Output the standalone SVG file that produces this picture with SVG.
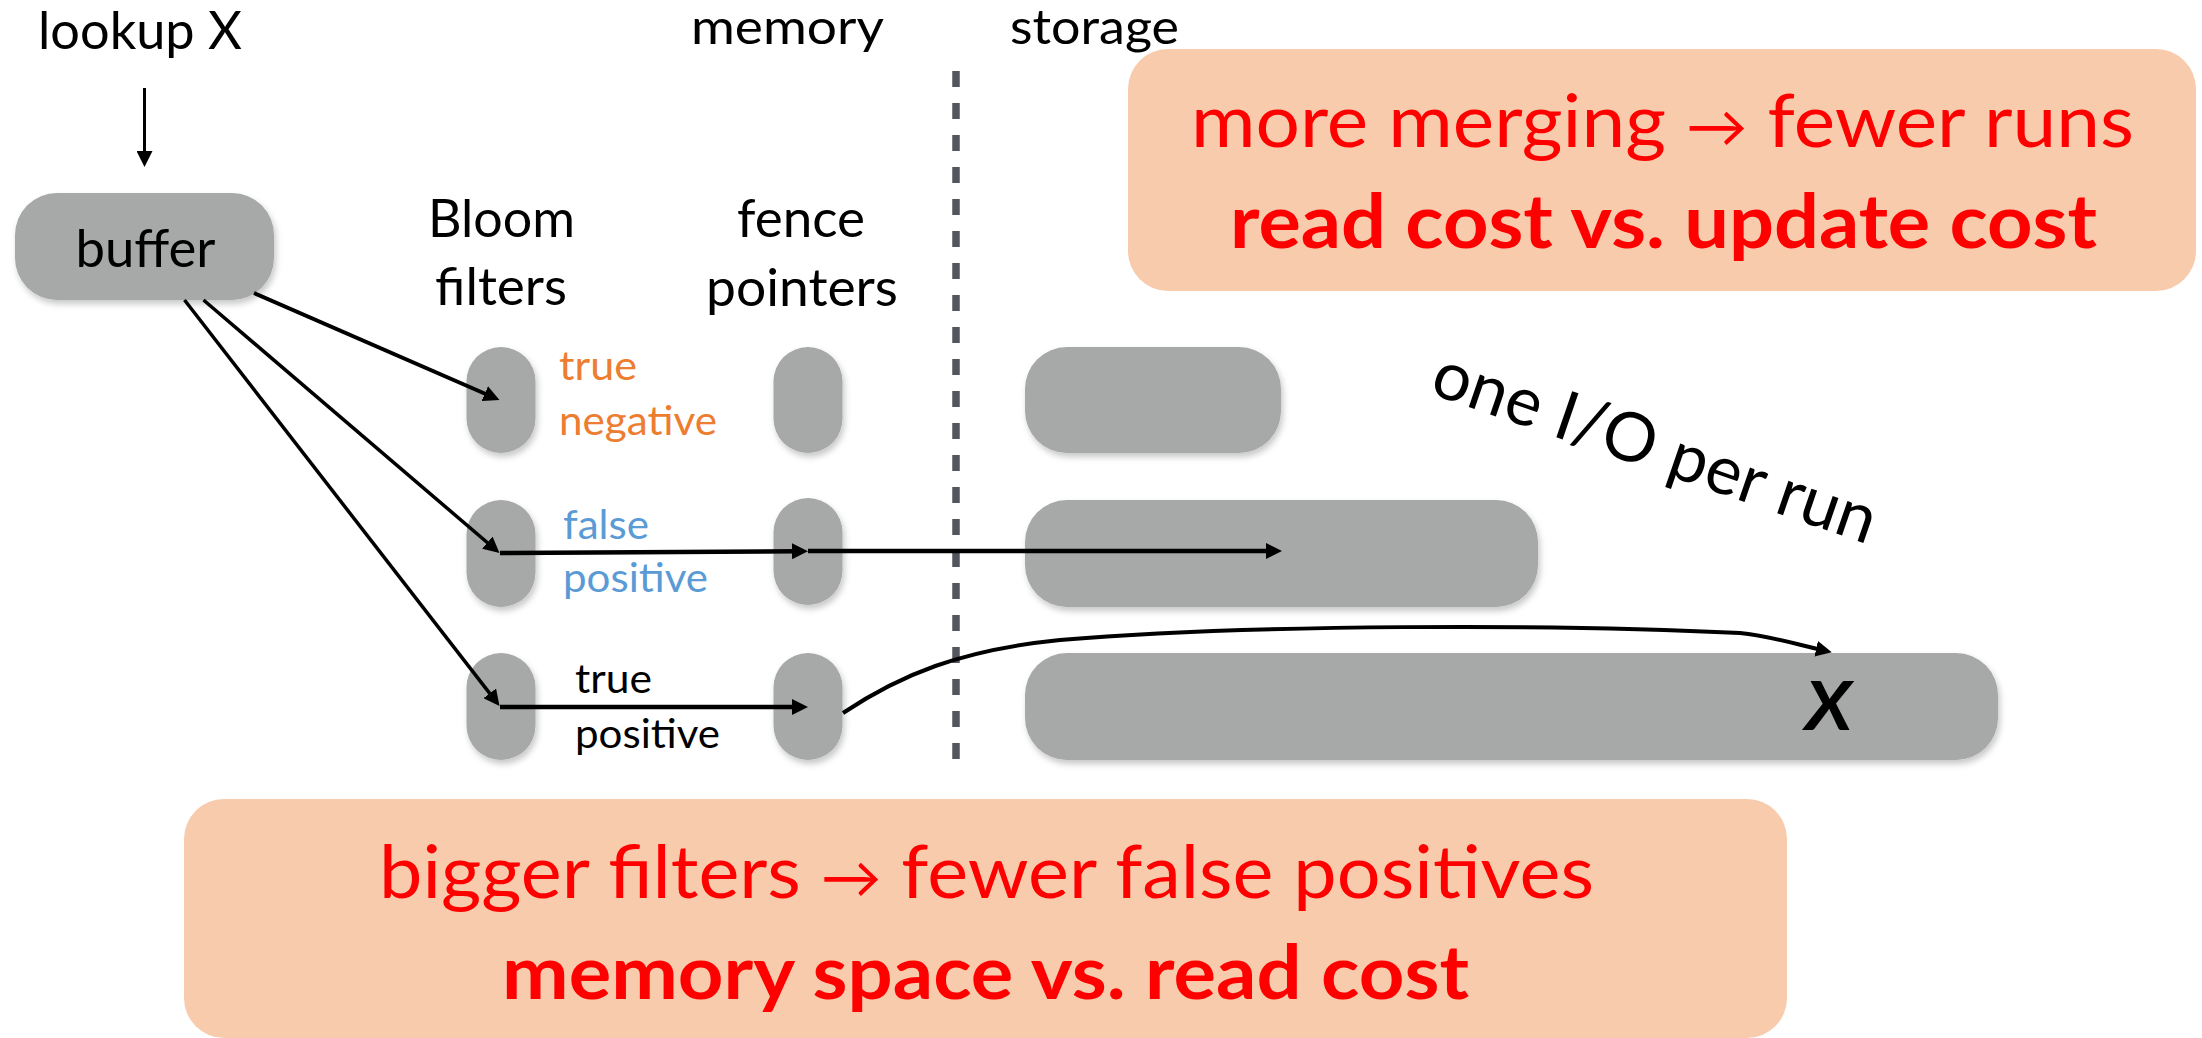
<svg xmlns="http://www.w3.org/2000/svg" width="2202" height="1038" viewBox="0 0 2202 1038">
<style>
text{font-family:Lato,"Open Sans","Liberation Sans",sans-serif;}
.hdr{font-size:52px;fill:#000;}
.top{font-size:49px;fill:#000;}
.lbl{font-size:41px;}
.box{font-size:74px;fill:#FF0000;}
.arr{font-size:58px;}
.bold{font-weight:bold;}
.gray{fill:#A6A9A7;filter:url(#sh);}
.note{fill:#F8CBAD;}
.conn{fill:none;stroke:#000;stroke-width:4.5;marker-end:url(#ah);}
</style>
<defs>
<filter id="sh" x="-20%" y="-20%" width="140%" height="150%">
<feDropShadow dx="2" dy="4" stdDeviation="3" flood-color="#000" flood-opacity="0.22"/>
</filter>
<marker id="ah" markerUnits="userSpaceOnUse" markerWidth="16" markerHeight="16" refX="6" refY="8" orient="auto">
<path d="M0,0 L16,8 L0,16 Z" fill="#000"/>
</marker>
</defs>
<rect width="2202" height="1038" fill="#fff"/>

<g id="labels">
<text class="hdr" x="38" y="49" textLength="204" lengthAdjust="spacingAndGlyphs">lookup X</text>
<text class="top" x="691" y="44" textLength="193" lengthAdjust="spacingAndGlyphs">memory</text>
<text class="top" x="1010" y="44" textLength="169" lengthAdjust="spacingAndGlyphs">storage</text>
<text class="hdr" x="428" y="237" textLength="147" lengthAdjust="spacingAndGlyphs">Bloom</text>
<text class="hdr" x="435" y="305" textLength="132" lengthAdjust="spacingAndGlyphs">filters</text>
<text class="hdr" x="737" y="237" textLength="128" lengthAdjust="spacingAndGlyphs">fence</text>
<text class="hdr" x="706" y="306" textLength="192" lengthAdjust="spacingAndGlyphs">pointers</text>
<text class="lbl" fill="#ED7D31" x="559" y="380" textLength="78" lengthAdjust="spacingAndGlyphs">true</text>
<text class="lbl" fill="#ED7D31" x="559" y="435" textLength="158" lengthAdjust="spacingAndGlyphs">negative</text>
<text class="lbl" fill="#5B9BD5" x="563" y="539" textLength="86" lengthAdjust="spacingAndGlyphs">false</text>
<text class="lbl" fill="#5B9BD5" x="563" y="592" textLength="145" lengthAdjust="spacingAndGlyphs">positive</text>
<text class="lbl" fill="#000" x="575" y="693" textLength="77" lengthAdjust="spacingAndGlyphs">true</text>
<text class="lbl" fill="#000" x="575" y="748" textLength="145" lengthAdjust="spacingAndGlyphs">positive</text>
<text fill="#000" font-size="68" transform="rotate(19 1428 393)" x="1428" y="393" textLength="465" lengthAdjust="spacingAndGlyphs">one I/O per run</text>
</g>

<line id="divider" x1="956" y1="71" x2="956" y2="759" stroke="#53565E" stroke-width="7.5" stroke-dasharray="16 16"/>

<g id="buffer">
<rect class="gray" x="15" y="193" width="259" height="107" rx="42"/>
<text class="hdr" x="75.5" y="267" textLength="140" lengthAdjust="spacingAndGlyphs">buffer</text>
</g>

<g id="bloom1"><rect class="gray" x="466.5" y="347" width="69" height="106" rx="34.5"/></g>
<g id="bloom2"><rect class="gray" x="466.5" y="500" width="69" height="107" rx="34.5"/></g>
<g id="bloom3"><rect class="gray" x="466.5" y="653" width="69" height="107" rx="34.5"/></g>
<g id="fence1"><rect class="gray" x="773.5" y="347" width="69" height="106" rx="34.5"/></g>
<g id="fence2"><rect class="gray" x="773.5" y="498" width="69" height="107" rx="34.5"/></g>
<g id="fence3"><rect class="gray" x="773.5" y="653" width="69" height="107" rx="34.5"/></g>
<g id="run1"><rect class="gray" x="1025" y="347" width="256" height="106" rx="42"/></g>
<g id="run2"><rect class="gray" x="1025" y="500" width="513" height="107" rx="42"/></g>
<g id="run3">
<rect class="gray" x="1025" y="653" width="973" height="107" rx="42"/>
<text fill="#000" font-size="67" font-weight="bold" font-style="italic" x="1805" y="730" textLength="47" lengthAdjust="spacingAndGlyphs">X</text>
</g>

<g id="note-merging">
<rect class="note" x="1128" y="49" width="1068" height="242" rx="40"/>
<text class="box" x="1191" y="147" textLength="943" lengthAdjust="spacingAndGlyphs">more merging <tspan class="arr">→</tspan> fewer runs</text>
<text class="box bold" x="1230" y="248" textLength="867" lengthAdjust="spacingAndGlyphs">read cost vs. update cost</text>
</g>

<g id="note-filters">
<rect class="note" x="184" y="799" width="1603" height="239" rx="40"/>
<text class="box" x="379" y="898" textLength="1215" lengthAdjust="spacingAndGlyphs">bigger filters <tspan class="arr">→</tspan> fewer false positives</text>
<text class="box bold" x="502" y="999" textLength="967" lengthAdjust="spacingAndGlyphs">memory space vs. read cost</text>
</g>

<g id="connectors">
<path class="conn" style="stroke-width:3" d="M144.5 88 L144.5 157"/>
<path class="conn" style="stroke-width:4" d="M254 293 L490.3 396"/>
<path class="conn" style="stroke-width:3.5" d="M203.5 300 L491.9 546.5"/>
<path class="conn" style="stroke-width:3.5" d="M184.5 300 L493.4 698.1"/>
<path class="conn" d="M500 553 L798 551.2"/>
<path class="conn" d="M808 551 L1272 551"/>
<path class="conn" d="M500 707 L798 707"/>
<path class="conn" style="stroke-width:4" d="M843 713 C900 675 960 650 1060 640 C1250 624 1560 624 1740 633 C1770 636 1795 644 1822 650"/>
</g>
</svg>
